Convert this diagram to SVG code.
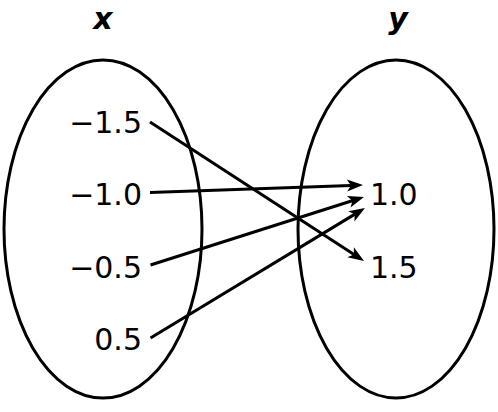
<svg xmlns="http://www.w3.org/2000/svg" width="498" height="412" viewBox="0 0 498 412">
<defs>
<style>
.set{fill:none;stroke:#000;stroke-width:3}
.num{font-family:"DejaVu Sans",Verdana,sans-serif;font-size:30px;fill:#000}
.head{font-family:"DejaVu Sans",Verdana,sans-serif;font-size:30px;font-weight:bold;font-style:italic;fill:#000;text-anchor:middle}
.conn line{stroke:#000;stroke-width:3;marker-end:url(#arr)}
</style>
<marker id="arr" markerUnits="userSpaceOnUse" markerWidth="16" markerHeight="12" refX="11" refY="6" orient="auto" overflow="visible">
<path d="M0,0 L16,6 L0,12 L4,6 Z" fill="#000"/>
</marker>
</defs>
<rect width="498" height="412" fill="#fff"/>
<g id="set-x">
<ellipse class="set" cx="103" cy="229" rx="99" ry="169"/>
<text class="head" x="103" y="29">x</text>
</g>
<g id="set-y">
<ellipse class="set" cx="396" cy="229" rx="98" ry="169"/>
<text class="head" x="398" y="29">y</text>
</g>
<g id="x-m15"><text class="num" x="142" y="133" text-anchor="end">−1.5</text></g>
<g id="x-m10"><text class="num" x="142" y="205" text-anchor="end">−1.0</text></g>
<g id="x-m05"><text class="num" x="142" y="278" text-anchor="end">−0.5</text></g>
<g id="x-05"><text class="num" x="142" y="350" text-anchor="end">0.5</text></g>
<g id="y-10"><text class="num" x="370" y="205">1.0</text></g>
<g id="y-15"><text class="num" x="370" y="278">1.5</text></g>
<g id="connectors" class="conn">
<line x1="150" y1="122" x2="359.8" y2="258.3"/>
<line x1="150" y1="192.5" x2="358" y2="185.2"/>
<line x1="150.5" y1="265" x2="359.2" y2="198.5"/>
<line x1="150.5" y1="338" x2="360.7" y2="210.6"/>
</g>
</svg>
